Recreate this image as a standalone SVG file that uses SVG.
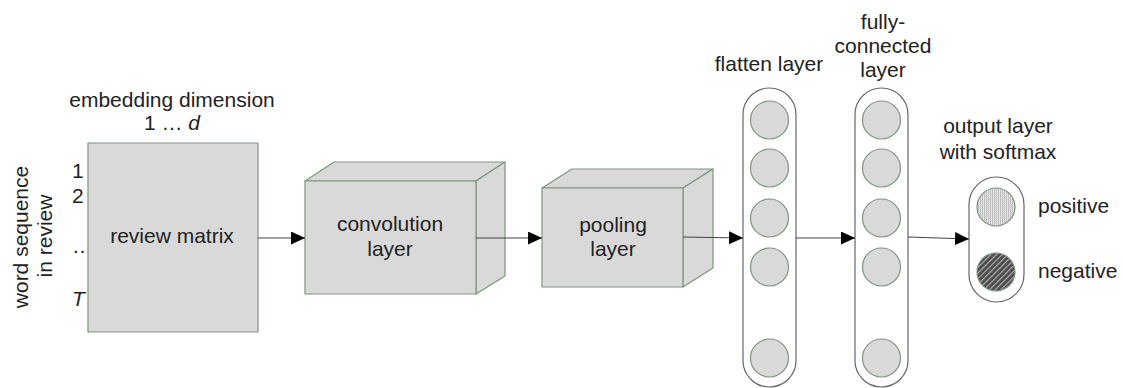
<svg xmlns="http://www.w3.org/2000/svg" width="1123" height="388" viewBox="0 0 1123 388">
  <defs>
    <marker id="arrow" markerUnits="userSpaceOnUse" markerWidth="14" markerHeight="13" refX="14" refY="6.5" orient="auto">
      <path d="M0,0 L14,6.5 L0,13 Z" fill="#000"/>
    </marker>
    <pattern id="dots" patternUnits="userSpaceOnUse" width="2" height="2">
      <rect width="2" height="2" fill="#ececec"/>
      <rect width="1" height="2" fill="#b8b8b8"/>
      <rect width="2" height="0.5" fill="#d0d0d0"/>
    </pattern>
    <pattern id="hatch" patternUnits="userSpaceOnUse" width="4" height="4" patternTransform="rotate(45)">
      <rect width="4" height="4" fill="#4a4a4a"/>
      <rect width="1.2" height="4" fill="#b0b0b0"/>
    </pattern>
    <style>
      text { font-family: "Liberation Sans", Arial, sans-serif; font-size: 21px; fill: #222; }
      .mid { text-anchor: middle; }
      .face { fill: #d9d9d9; stroke: #7d967d; stroke-width: 1.2; stroke-linejoin: round; }
      .capsule { fill: #fff; stroke: #666; stroke-width: 1.2; }
      .unit { fill: #d9d9d9; stroke: #7d967d; stroke-width: 1.2; }
      .link { fill: none; stroke: #444; stroke-width: 1.2; marker-end: url(#arrow); }
    </style>
  </defs>

  <rect width="1123" height="388" fill="#fff"/>

  <!-- input: review matrix -->
  <g id="review-matrix">
    <text class="mid" x="172" y="107">embedding dimension</text>
    <text class="mid" x="172" y="130">1 … <tspan font-style="italic">d</tspan></text>
    <text class="mid" transform="translate(28,237) rotate(-90)">word sequence</text>
    <text class="mid" transform="translate(52,236) rotate(-90)">in review</text>
    <text x="72" y="178">1</text>
    <text x="72" y="203">2</text>
    <text x="72" y="253">…</text>
    <text x="72" y="306" font-style="italic">T</text>
    <rect class="face" x="88" y="143" width="170" height="189"/>
    <text class="mid" x="172" y="243">review matrix</text>
  </g>

  <!-- convolution block -->
  <g id="convolution-layer">
    <polygon class="face" points="305,181 334,162 505,162 476,181"/>
    <polygon class="face" points="476,181 505,162 505,276 476,294"/>
    <rect class="face" x="305" y="181" width="171" height="113"/>
    <text class="mid" x="390" y="231">convolution</text>
    <text class="mid" x="390" y="256">layer</text>
  </g>

  <!-- pooling block -->
  <g id="pooling-layer">
    <polygon class="face" points="542,188 572,169 713,169 683,188"/>
    <polygon class="face" points="683,188 713,169 713,268 683,287"/>
    <rect class="face" x="542" y="188" width="141" height="99"/>
    <text class="mid" x="613" y="232">pooling</text>
    <text class="mid" x="613" y="256">layer</text>
  </g>

  <!-- flatten layer -->
  <g id="flatten-layer">
    <text class="mid" x="769" y="71">flatten layer</text>
    <rect class="capsule" x="743" y="88" width="53" height="299" rx="26.5"/>
    <circle class="unit" cx="769.5" cy="120" r="19"/>
    <circle class="unit" cx="769.5" cy="168" r="19"/>
    <circle class="unit" cx="769.5" cy="218" r="19"/>
    <circle class="unit" cx="769.5" cy="267" r="19"/>
    <circle class="unit" cx="769.5" cy="358" r="19"/>
  </g>

  <!-- fully-connected layer -->
  <g id="fully-connected-layer">
    <text class="mid" x="883" y="29">fully-</text>
    <text class="mid" x="883" y="53">connected</text>
    <text class="mid" x="883" y="77">layer</text>
    <rect class="capsule" x="855" y="88" width="53" height="299" rx="26.5"/>
    <circle class="unit" cx="881.5" cy="120" r="19"/>
    <circle class="unit" cx="881.5" cy="168" r="19"/>
    <circle class="unit" cx="881.5" cy="218" r="19"/>
    <circle class="unit" cx="881.5" cy="267" r="19"/>
    <circle class="unit" cx="881.5" cy="358" r="19"/>
  </g>

  <!-- softmax output -->
  <g id="output-layer">
    <text class="mid" x="998" y="133">output layer</text>
    <text class="mid" x="998" y="159">with softmax</text>
    <rect class="capsule" x="969" y="177" width="55" height="125" rx="27.5"/>
    <circle class="unit" cx="996" cy="207" r="19" fill="url(#dots)" style="fill:url(#dots)"/>
    <circle class="unit" cx="996" cy="272" r="19" style="fill:url(#hatch)"/>
    <text x="1038" y="213">positive</text>
    <text x="1038" y="278">negative</text>
  </g>

  <!-- connectors -->
  <g id="connectors">
    <line class="link" x1="258" y1="238" x2="305" y2="238"/>
    <line class="link" x1="476" y1="238" x2="542" y2="238"/>
    <line class="link" x1="683" y1="237" x2="743" y2="238"/>
    <line class="link" x1="796" y1="238" x2="855" y2="238"/>
    <line class="link" x1="908" y1="237" x2="969" y2="239"/>
  </g>
</svg>
